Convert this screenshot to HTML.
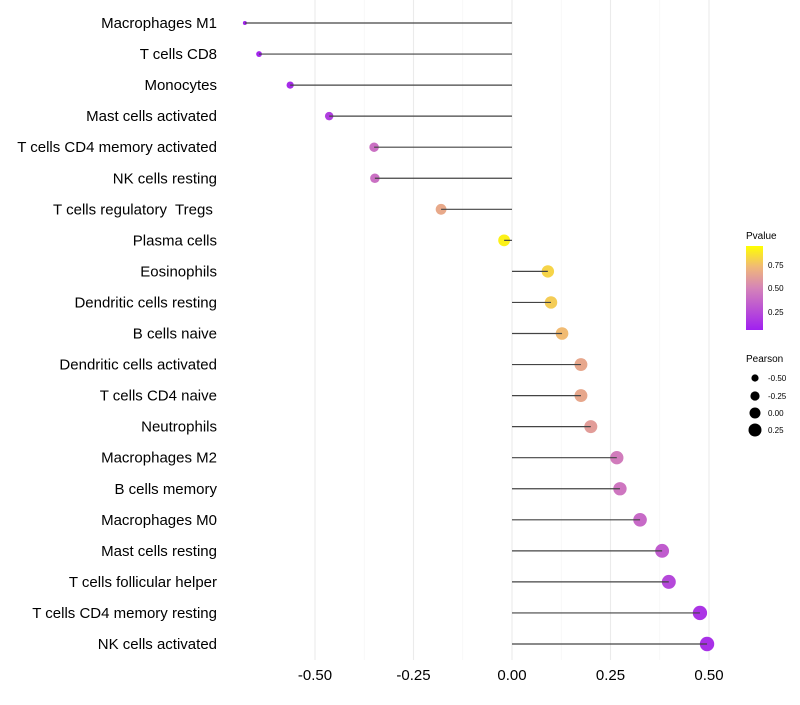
<!DOCTYPE html>
<html><head><meta charset="utf-8"><style>
body{margin:0;background:#fff;font-family:"Liberation Sans",sans-serif}
</style></head><body>
<svg id="c" width="800" height="700" style="font-family:'Liberation Sans',sans-serif">
<defs><linearGradient id="pg" x1="0" y1="1" x2="0" y2="0">
<stop offset="0" stop-color="#a020f0"/><stop offset="0.5" stop-color="#d584b8"/><stop offset="0.75" stop-color="#f0b878"/><stop offset="1" stop-color="#ffff00"/></linearGradient></defs>
<g id="grid"></g><g id="marks"></g><g id="ylab"></g><g id="xlab"></g>
<g>
<text x="746" y="239" font-size="10" fill="#000">Pvalue</text>
<rect x="746" y="246" width="17" height="84" fill="url(#pg)"/>
<text x="768" y="268" font-size="8" fill="#000">0.75</text>
<text x="768" y="291" font-size="8" fill="#000">0.50</text>
<text x="768" y="315" font-size="8" fill="#000">0.25</text>
</g>
<g>
<text x="746" y="362" font-size="10" fill="#000">Pearson</text>
<circle cx="755" cy="378" r="3.6"/><text x="768" y="381" font-size="8">-0.50</text>
<circle cx="755" cy="396" r="4.6"/><text x="768" y="399" font-size="8">-0.25</text>
<circle cx="755" cy="413" r="5.5"/><text x="768" y="416" font-size="8">0.00</text>
<circle cx="755" cy="430" r="6.5"/><text x="768" y="433" font-size="8">0.25</text>
</g>
</svg>
<script>
const categories=["Macrophages M1","T cells CD8","Monocytes","Mast cells activated","T cells CD4 memory activated","NK cells resting","T cells regulatory  Tregs ","Plasma cells","Eosinophils","Dendritic cells resting","B cells naive","Dendritic cells activated","T cells CD4 naive","Neutrophils","Macrophages M2","B cells memory","Macrophages M0","Mast cells resting","T cells follicular helper","T cells CD4 memory resting","NK cells activated"];
const pearson=[-0.678,-0.642,-0.563,-0.464,-0.350,-0.348,-0.180,-0.020,0.091,0.099,0.127,0.175,0.175,0.200,0.266,0.274,0.325,0.381,0.398,0.477,0.495];
const pvalues=[0.02,0.03,0.06,0.15,0.4,0.4,0.68,0.95,0.85,0.82,0.76,0.67,0.67,0.62,0.46,0.43,0.37,0.3,0.2,0.1,0.08];
const xTicks=[-0.5,-0.25,0,0.25,0.5];
const xTickLabels=["-0.50","-0.25","0.00","0.25","0.50"];
const NS="http://www.w3.org/2000/svg";
const x=v=>512+394*v;
const y=i=>23+i*31.05;
const pMin=Math.min(...pearson),pMax=Math.max(...pearson);
const rad=v=>2+5.2*Math.sqrt(Math.max(0,(v-pMin)/(pMax-pMin)));
function mk(t,a,p){const e=document.createElementNS(NS,t);for(const k in a)e.setAttribute(k,a[k]);p.appendChild(e);return e;}
function hex(h){return [1,3,5].map(i=>parseInt(h.substr(i,2),16));}
const stops=[[0,"#a020f0"],[0.5,"#d584b8"],[0.75,"#f0b878"],[1,"#ffff00"]];
function col(p){p=Math.max(0,Math.min(1,p));for(let i=1;i<stops.length;i++){if(p<=stops[i][0]){const a=stops[i-1],b=stops[i],t=(p-a[0])/(b[0]-a[0]);const A=hex(a[1]),B=hex(b[1]);return "rgb("+A.map((v,j)=>Math.round(v+(B[j]-v)*t)).join(",")+")";}}return stops[3][1];}
const grid=document.getElementById('grid'),marks=document.getElementById('marks'),ylab=document.getElementById('ylab'),xlab=document.getElementById('xlab');
for(let i=0;i<xTicks.length;i++){
 const g=mk('line',{x1:x(xTicks[i]),x2:x(xTicks[i]),y1:0,y2:660,stroke:'#ebebeb','stroke-width':1.1},grid);
 
 
 if(i<xTicks.length-1){const m=(xTicks[i]+xTicks[i+1])/2;const mg=mk('line',{x1:x(m),x2:x(m),y1:0,y2:660,stroke:'#f4f4f4','stroke-width':0.6},grid);
 
 }
 const t=mk('text',{x:x(xTicks[i]),y:680,'font-size':15,fill:'#000','text-anchor':'middle'},xlab);t.textContent=xTickLabels[i];
 
 
}
categories.forEach((c,i)=>{
 const cy=y(i);
 const pt=mk('circle',{cx:x(pearson[i]),cy:cy,r:rad(pearson[i]),fill:col(pvalues[i])},marks);
 
 
 const s=mk('line',{x1:x(0),x2:x(pearson[i]),y1:cy,y2:cy,stroke:'#444','stroke-width':1.2},marks);
 
 
 const t=mk('text',{x:217,y:cy+5,'font-size':15,fill:'#000','text-anchor':'end'},ylab);t.textContent=c;
 t.style.whiteSpace='pre';
 
 
});
</script>
</body></html>
